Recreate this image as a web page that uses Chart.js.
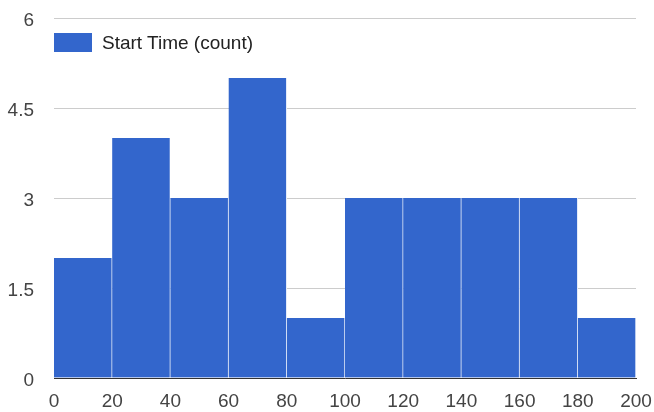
<!DOCTYPE html>
<html>
<head>
<meta charset="utf-8">
<script src="https://cdn.jsdelivr.net/npm/chart.js@4/dist/chart.umd.min.js"></script>
<style>
  html, body { margin: 0; padding: 0; background: #fff; }
  #wrap { position: relative; width: 654px; height: 412px; }
  #legend { position: absolute; left: 54px; top: 33px; height: 19px; display: flex; align-items: center;
            font-family: Arial, "Liberation Sans", sans-serif; font-size: 19px; color: #222; }
  #legend span.box { display: inline-block; width: 38px; height: 19px; background: #3366cc; margin-right: 10px; }
</style>
</head>
<body>
<div id="wrap">
  <canvas id="myChart" width="654" height="412"></canvas>
  <div id="legend"><span class="box"></span><span>Start Time (count)</span></div>
</div>
<script>
// histogram bins (start of each 20-wide bin) and counts
const binStarts = [0, 20, 40, 60, 80, 100, 120, 140, 160, 180];
const binWidth = 20;
const counts = [2, 4, 3, 5, 1, 3, 3, 3, 3, 1];
const yTicks = [0, 1.5, 3, 4.5, 6];
const seriesName = 'Start Time (count)';

const points = binStarts.map((b, i) => ({x: b + binWidth / 2, y: counts[i]}));

Chart.defaults.font.family = 'Arial, "Liberation Sans", sans-serif';
Chart.defaults.font.size = 19;
Chart.defaults.color = '#444';

const noPad = s => { s.paddingTop = 0; s.paddingBottom = 0; s.paddingLeft = 0; s.paddingRight = 0; };

const ctx = document.getElementById('myChart').getContext('2d');
new Chart(ctx, {
  type: 'bar',
  data: {
    datasets: [{
      label: seriesName,
      data: points,
      backgroundColor: '#3366cc',
      borderColor: '#ffffff',
      borderWidth: {left: 0, right: 1, top: 0, bottom: 0},
      borderSkipped: false,
      barPercentage: 1,
      categoryPercentage: 1
    }]
  },
  options: {
    responsive: false,
    animation: false,
    layout: {padding: {top: 18, right: 18, left: 0, bottom: 0}},
    plugins: {legend: {display: false}, tooltip: {enabled: false}},
    scales: {
      x: {
        type: 'linear',
        min: 0,
        max: 200,
        offset: false,
        z: 1,
        grid: {display: false, drawTicks: false},
        border: {display: true, color: '#333', width: 1},
        ticks: {stepSize: 20, padding: 12, maxRotation: 0, autoSkip: false},
        afterFit: s => { s.height = 34; noPad(s); }
      },
      y: {
        min: 0,
        max: 6,
        afterBuildTicks: s => { s.ticks = yTicks.map(v => ({value: v})); },
        grid: {color: '#cccccc', drawTicks: false},
        border: {display: false},
        ticks: {padding: 20, labelOffset: 3},
        afterFit: s => { s.width = 54; noPad(s); }
      }
    }
  }
});
</script>
</body>
</html>
